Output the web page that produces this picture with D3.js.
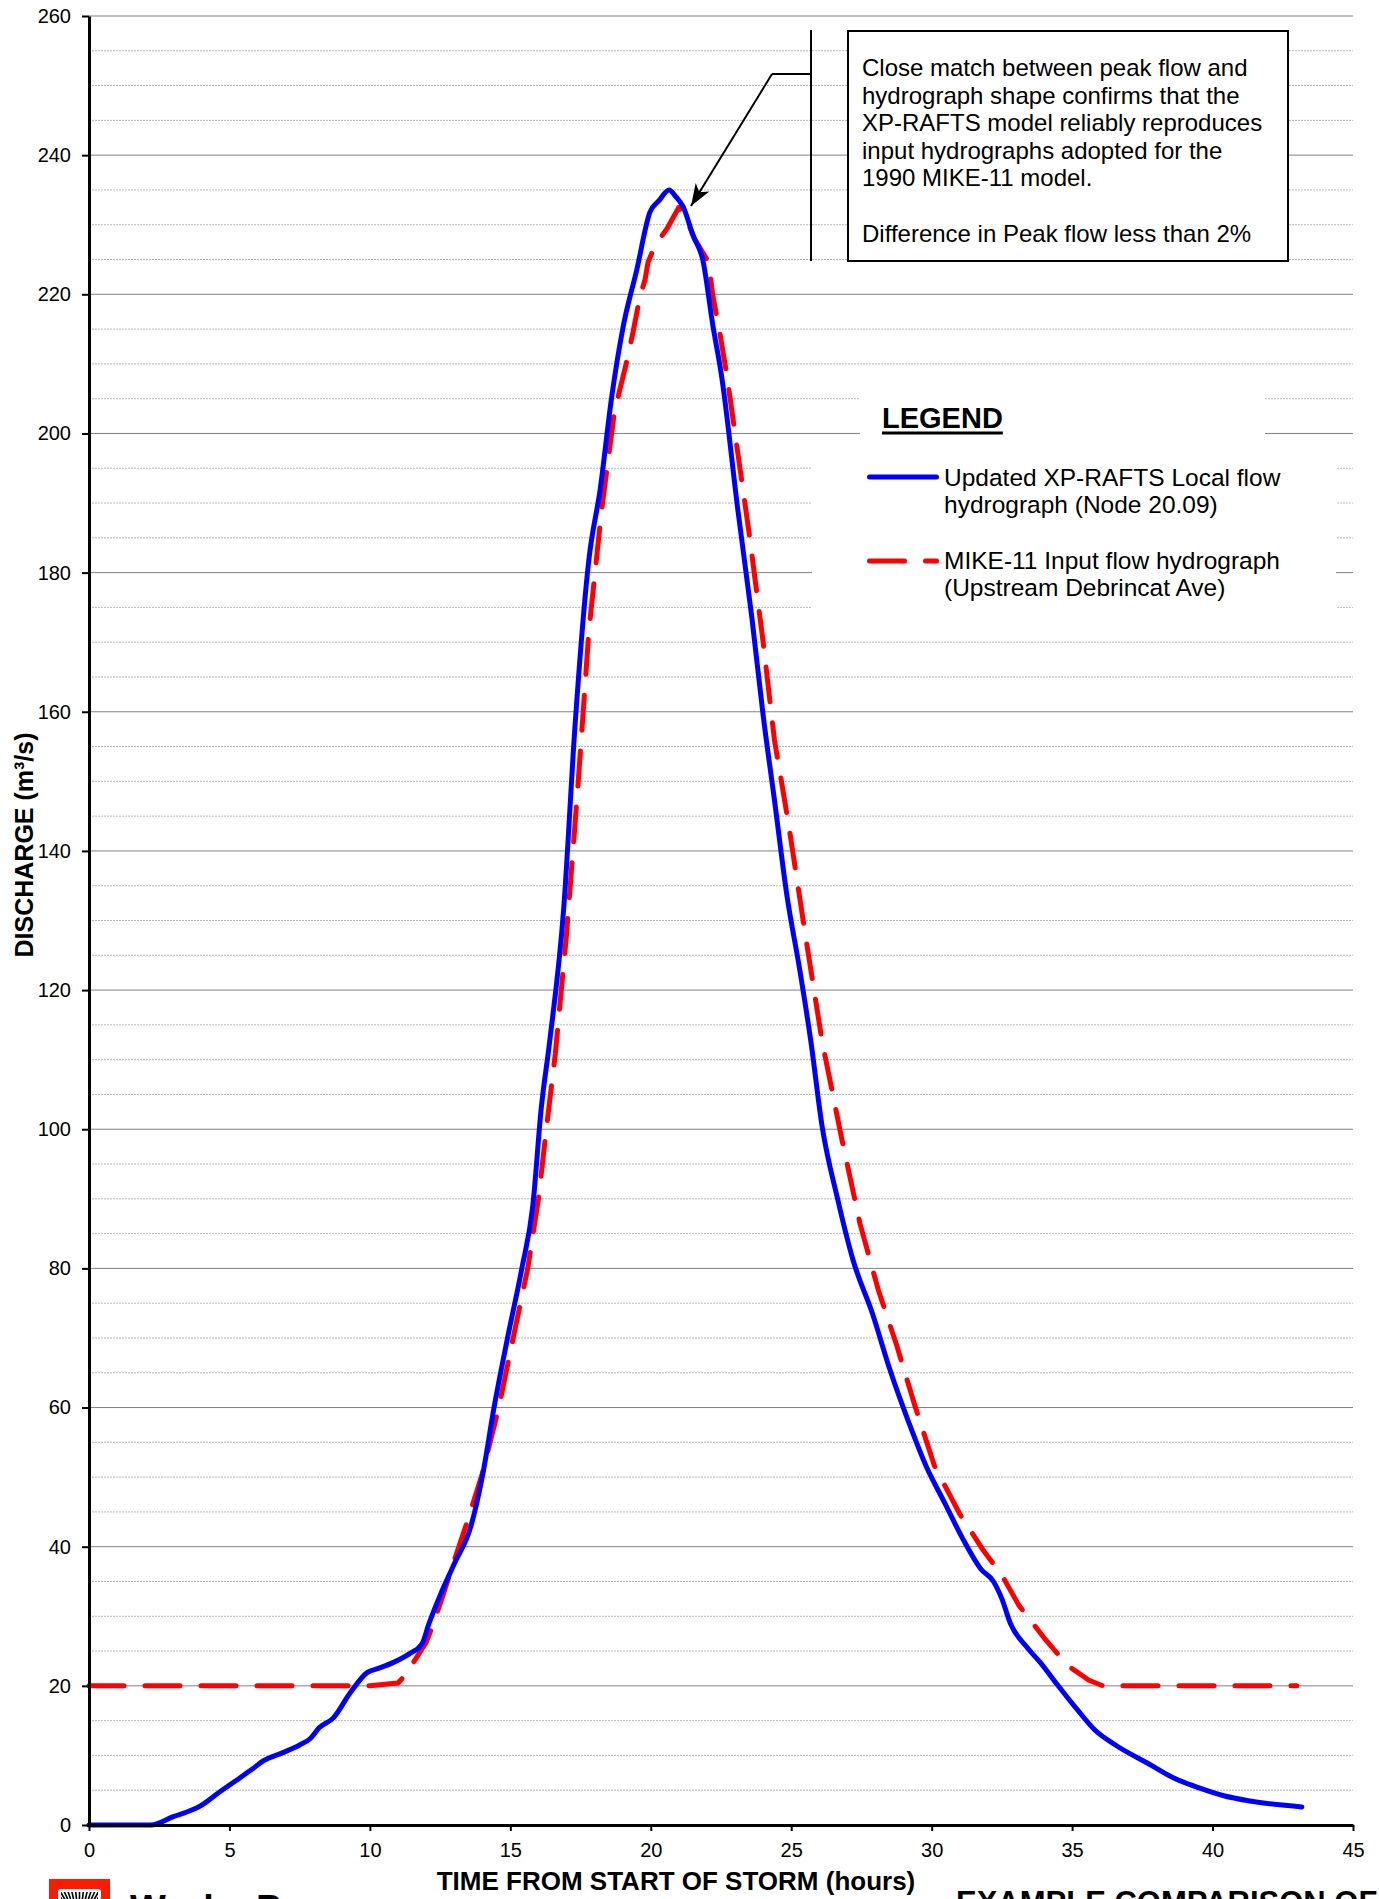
<!DOCTYPE html>
<html>
<head>
<meta charset="utf-8">
<script src="https://cdn.jsdelivr.net/npm/d3@7"></script>
<style>
  html, body { margin: 0; padding: 0; background: #fff; overflow: hidden; }
  svg { display: block; font-family: "Liberation Sans", Arial, sans-serif; }
</style>
</head>
<body>
<svg id="chart" width="1379" height="1899"></svg>
<script>
// Updated XP-RAFTS local flow hydrograph (Node 20.09)
const xpHours = [0, 2.2, 3.0, 3.95, 4.6, 5.38, 5.8, 6.2, 6.9, 7.5, 7.87, 8.2, 8.7, 9.3, 9.9, 10.3, 10.8, 11.4, 11.85, 12.1,
  12.5, 13.0, 13.6, 14.0, 14.42, 14.9, 15.41, 15.8, 16.1, 16.4, 16.9, 17.3, 17.8, 18.2, 18.6, 19.0, 19.5, 19.97, 20.3, 20.65,
  20.9, 21.15, 21.5, 21.86, 22.2, 22.53, 23.1, 23.6, 24.0, 24.4, 24.85, 25.3, 25.7, 26.1, 26.65, 27.2, 27.9, 28.5, 29.2, 29.8,
  30.45, 31.1, 31.75, 32.2, 32.5, 32.8, 33.4, 33.9, 34.45, 35.2, 35.8, 36.5, 37.77, 38.6, 39.55, 40.4, 41.33, 43.18];
const xpFlow = [0, 0, 1.2, 2.7, 4.6, 6.8, 8.0, 9.2, 10.4, 11.5, 12.4, 14.0, 15.4, 19.0, 21.9, 22.5, 23.3, 24.6, 26.0, 28.9,
  33.0, 37.5, 43.0, 50.0, 60.0, 70.0, 80.0, 89.0, 103.0, 112.6, 131.7, 157.8, 182.0, 192.0, 205.0, 215.0, 223.5, 231.8, 233.5, 235.0,
  234.0, 232.6, 228.5, 224.8, 215.8, 208.0, 189.0, 173.5, 159.5, 147.4, 133.5, 123.0, 112.6, 100.4, 90.0, 81.2, 73.4, 65.6, 57.7, 51.6,
  46.4, 41.2, 36.8, 35.0, 32.5, 29.0, 25.5, 23.2, 20.3, 16.5, 13.7, 11.6, 8.7, 6.8, 5.3, 4.2, 3.45, 2.6];

// MIKE-11 input flow hydrograph (Upstream Debrincat Ave)
const mikeHours = [0, 10.0, 11.0, 11.25, 11.6, 12.0, 12.2, 12.6, 13.0, 13.5, 14.0, 14.59, 15.1, 15.62, 16.0, 16.28, 16.6, 17.0, 17.4, 17.8,
  18.25, 18.7, 18.97, 19.2, 19.37, 19.6, 19.8, 19.9, 20.15, 20.57, 21.0, 21.3, 21.57, 22.0, 22.1, 22.2, 22.46, 22.7, 23.0, 23.5,
  24.0, 24.4, 24.9, 25.5, 26.1, 26.8, 27.45, 28.1, 28.75, 29.4, 30.1, 31.0, 31.85, 32.5, 33.1, 34.0, 34.85, 35.6, 36.1, 43.0];
const mikeFlow = [20, 20, 20.4, 21.5, 23.7, 26.2, 28.3, 33, 38, 44, 50.5, 60, 70, 80, 90, 100, 110.8, 128, 149, 171.8,
  189, 203, 207.5, 211.3, 214.6, 219.4, 222.2, 224.6, 227, 229.4, 232.5, 230.5, 227.9, 225, 223.3, 220, 214.4, 208.6, 200, 185.7,
  170, 156, 144, 128, 112.6, 98.6, 86.4, 76.9, 69, 60.3, 51.6, 44.7, 39.4, 35.9, 31.6, 26.9, 22.9, 20.8, 20, 20];

const xTicks = [0, 5, 10, 15, 20, 25, 30, 35, 40, 45];
const yTicks = [0, 20, 40, 60, 80, 100, 120, 140, 160, 180, 200, 220, 240, 260];
const yMinorTicks = d3.range(5, 260, 5).filter(v => v % 20 !== 0);

const seriesNames = ["Updated XP-RAFTS Local flow", "hydrograph (Node 20.09)"];
const seriesNames2 = ["MIKE-11 Input flow hydrograph", "(Upstream Debrincat Ave)"];
const noteLines = [
  "Close match between peak flow and",
  "hydrograph shape confirms that the",
  "XP-RAFTS model reliably reproduces",
  "input hydrographs adopted for the",
  "1990 MIKE-11 model.",
  "",
  "Difference in Peak flow less than 2%"
];

const svg = d3.select("#chart");
const x = d3.scaleLinear().domain([0, 45]).range([89, 1353]);
const y = d3.scaleLinear().domain([0, 260]).range([1825, 16]);

const FONT = '"Liberation Sans", Arial, sans-serif';

// gridlines
const grid = svg.append("g");
grid.selectAll("line.minor").data(yMinorTicks).join("line")
  .attr("x1", x(0)).attr("x2", x(45))
  .attr("y1", d => y(d)).attr("y2", d => y(d))
  .attr("stroke", "#b8b8b8").attr("stroke-width", 1)
  .attr("stroke-dasharray", "2,1");
grid.selectAll("line.major").data(yTicks.filter(v => v > 0)).join("line")
  .attr("x1", x(0)).attr("x2", x(45))
  .attr("y1", d => y(d)).attr("y2", d => y(d))
  .attr("stroke", "#808080").attr("stroke-width", 1);

// legend backgrounds (white panels covering the gridlines)
svg.append("rect").attr("x", 860).attr("y", 378).attr("width", 405).attr("height", 70).attr("fill", "#fff");
svg.append("rect").attr("x", 812).attr("y", 446).attr("width", 524).attr("height", 178).attr("fill", "#fff");

// annotation callout
svg.append("line").attr("x1", 811).attr("x2", 811).attr("y1", 30).attr("y2", 261)
  .attr("stroke", "#000").attr("stroke-width", 2);
svg.append("line").attr("x1", 772).attr("x2", 811).attr("y1", 74).attr("y2", 74)
  .attr("stroke", "#000").attr("stroke-width", 2);
const tip = [691, 206], tail = [772, 74];
svg.append("line").attr("x1", tail[0]).attr("y1", tail[1]).attr("x2", tip[0]).attr("y2", tip[1])
  .attr("stroke", "#000").attr("stroke-width", 2);
{
  const ang = Math.atan2(tip[1] - tail[1], tip[0] - tail[0]) * 180 / Math.PI;
  svg.append("path")
    .attr("d", "M0,0 L-22,-8 L-16,0 L-22,8 Z")
    .attr("transform", `translate(${tip[0]},${tip[1]}) rotate(${ang})`)
    .attr("fill", "#000");
}
svg.append("rect").attr("x", 848).attr("y", 31).attr("width", 440).attr("height", 230)
  .attr("fill", "#fff").attr("stroke", "#000").attr("stroke-width", 2);
svg.append("g").selectAll("text").data(noteLines).join("text")
  .attr("x", 862).attr("y", (d, i) => 76 + i * 27.6)
  .attr("font-family", FONT).attr("font-size", 24).attr("fill", "#000")
  .text(d => d);

// hydrograph lines
const xpLine = d3.line().x(d => x(d[0])).y(d => y(d[1])).curve(d3.curveMonotoneX);
const mikeLine = d3.line().x(d => x(d[0])).y(d => y(d[1]));

svg.append("path")
  .datum(mikeHours.map((h, i) => [h, mikeFlow[i]]))
  .attr("d", mikeLine)
  .attr("fill", "none").attr("stroke", "#ff0000").attr("stroke-width", 5)
  .attr("stroke-linecap", "round").attr("stroke-linejoin", "round")
  .attr("stroke-dasharray", "35,21");

svg.append("path")
  .datum(xpHours.map((h, i) => [h, xpFlow[i]]))
  .attr("d", xpLine)
  .attr("fill", "none").attr("stroke", "#0000ff").attr("stroke-width", 5)
  .attr("stroke-linecap", "round").attr("stroke-linejoin", "round");

// axes
const yAxis = svg.append("g").attr("transform", `translate(${x(0)},0)`)
  .call(d3.axisLeft(y).tickValues(yTicks).tickSize(7).tickSizeOuter(0).tickPadding(11));
const xAxis = svg.append("g").attr("transform", `translate(0,${y(0)})`)
  .call(d3.axisBottom(x).tickValues(xTicks).tickSize(6).tickSizeOuter(0).tickPadding(12));
[yAxis, xAxis].forEach(a => {
  a.select(".domain").attr("stroke", "#000").attr("stroke-width", 3);
  a.selectAll(".tick line").attr("stroke", "#000").attr("stroke-width", 2);
  a.selectAll(".tick text").attr("font-family", FONT).attr("font-size", 20).attr("fill", "#000");
});

// axis titles
svg.append("text")
  .attr("transform", "translate(33,845) rotate(-90)")
  .attr("text-anchor", "middle")
  .attr("font-family", FONT).attr("font-size", 25).attr("font-weight", "bold")
  .text("DISCHARGE (m³/s)");
svg.append("text")
  .attr("x", 676).attr("y", 1890).attr("text-anchor", "middle")
  .attr("font-family", FONT).attr("font-size", 26).attr("font-weight", "bold")
  .text("TIME FROM START OF STORM (hours)");

// legend
const lgTitle = svg.append("text").attr("x", 882).attr("y", 428)
  .attr("font-family", FONT).attr("font-size", 29).attr("font-weight", "bold")
  .text("LEGEND");
const lgW = lgTitle.node().getComputedTextLength();
svg.append("line").attr("x1", 882).attr("x2", 882 + lgW).attr("y1", 433).attr("y2", 433)
  .attr("stroke", "#000").attr("stroke-width", 3);

svg.append("line").attr("x1", 869.5).attr("x2", 936.5).attr("y1", 477).attr("y2", 477)
  .attr("stroke", "#0000ff").attr("stroke-width", 5).attr("stroke-linecap", "round");
svg.append("line").attr("x1", 869.5).attr("x2", 936.5).attr("y1", 561).attr("y2", 561)
  .attr("stroke", "#ff0000").attr("stroke-width", 5).attr("stroke-linecap", "round")
  .attr("stroke-dasharray", "35,21");
svg.append("g").selectAll("text").data(seriesNames).join("text")
  .attr("x", 944).attr("y", (d, i) => 486 + i * 27)
  .attr("font-family", FONT).attr("font-size", 24.5).text(d => d);
svg.append("g").selectAll("text").data(seriesNames2).join("text")
  .attr("x", 944).attr("y", (d, i) => 569 + i * 27)
  .attr("font-family", FONT).attr("font-size", 24.5).text(d => d);

// footer: company mark and drawing title
const logo = svg.append("g");
logo.append("rect").attr("x", 49).attr("y", 1879).attr("width", 61).attr("height", 30).attr("fill", "#ff1a00");
logo.append("rect").attr("x", 58).attr("y", 1889).attr("width", 43).attr("height", 20).attr("rx", 3)
  .attr("fill", "#fff");
logo.append("clipPath").attr("id", "logoClip")
  .append("rect").attr("x", 61).attr("y", 1892).attr("width", 37).attr("height", 20);
logo.append("g").attr("clip-path", "url(#logoClip)")
  .selectAll("line").data(d3.range(-10, 11)).join("line")
  .attr("x1", 79.5).attr("y1", 1925)
  .attr("x2", d => 79.5 + d * 4).attr("y2", 1890)
  .attr("stroke", "#000").attr("stroke-width", 1.6);
svg.append("text").attr("x", 130).attr("y", 1922)
  .attr("font-family", FONT).attr("font-size", 38).attr("font-weight", "bold")
  .text("WorleyParsons");
svg.append("text").attr("x", 956).attr("y", 1913)
  .attr("font-family", FONT).attr("font-size", 31).attr("font-weight", "bold")
  .text("EXAMPLE COMPARISON OF");
</script>
</body>
</html>
